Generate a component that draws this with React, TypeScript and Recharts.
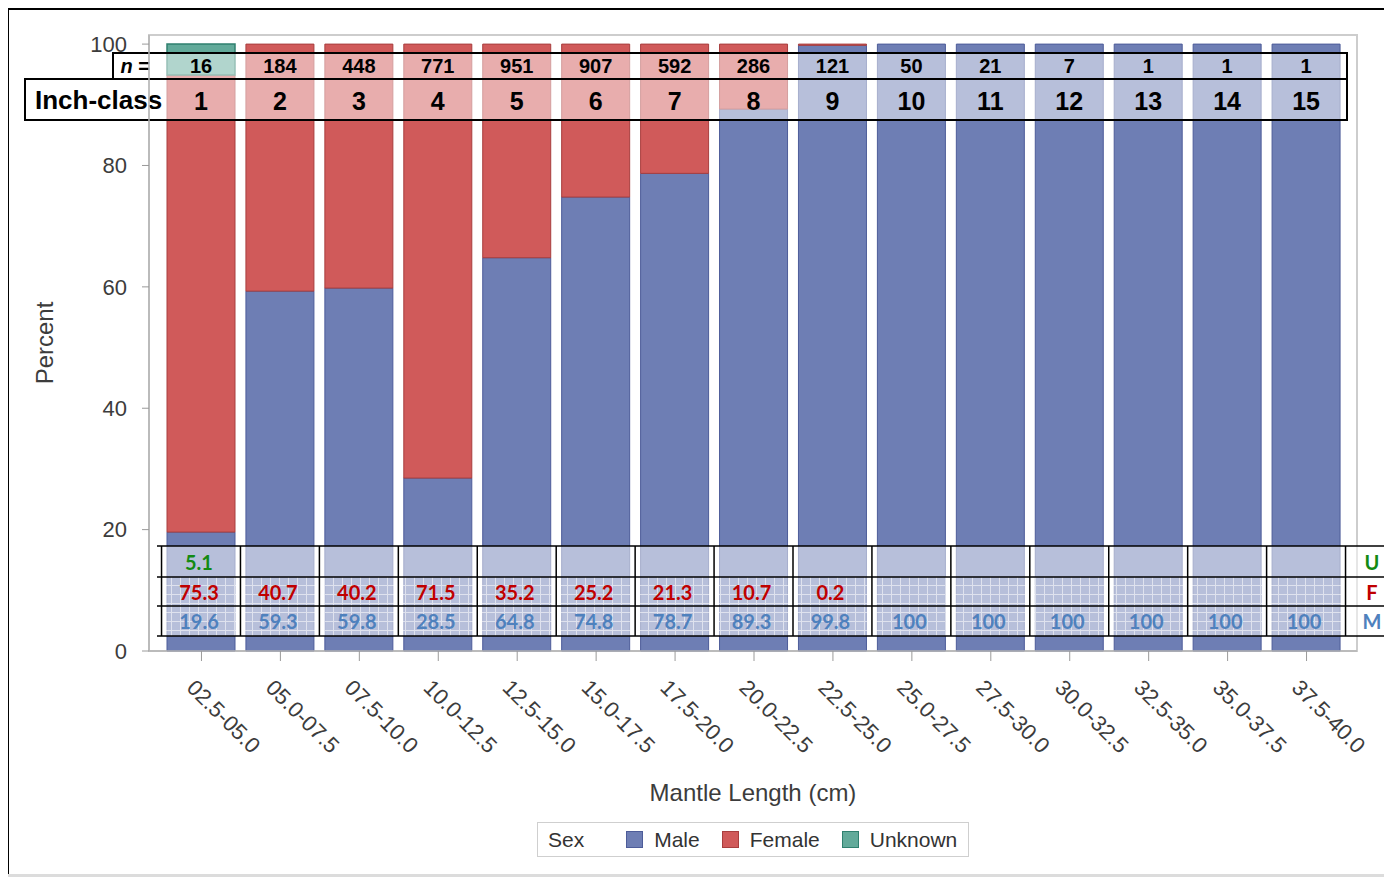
import React from "react"
import { BarChart, Bar, XAxis, YAxis, Legend } from "recharts"

// size classes (mantle length, cm) and the table rows shown over the bars
const sizeClasses = [
  "02.5-05.0", "05.0-07.5", "07.5-10.0", "10.0-12.5", "12.5-15.0",
  "15.0-17.5", "17.5-20.0", "20.0-22.5", "22.5-25.0", "25.0-27.5",
  "27.5-30.0", "30.0-32.5", "32.5-35.0", "35.0-37.5", "37.5-40.0",
]
const inchClass = [1, 2, 3, 4, 5, 6, 7, 8, 9, 10, 11, 12, 13, 14, 15]
const nFish = [16, 184, 448, 771, 951, 907, 592, 286, 121, 50, 21, 7, 1, 1, 1]
const malePct = [19.6, 59.3, 59.8, 28.5, 64.8, 74.8, 78.7, 89.3, 99.8, 100, 100, 100, 100, 100, 100]
const femalePct = [75.3, 40.7, 40.2, 71.5, 35.2, 25.2, 21.3, 10.7, 0.2, 0, 0, 0, 0, 0, 0]
const unknownPct = [5.1, 0, 0, 0, 0, 0, 0, 0, 0, 0, 0, 0, 0, 0, 0]
const yTicks = [0, 20, 40, 60, 80, 100]
const legendOrder = ["Male", "Female", "Unknown"]

const data = sizeClasses.map((range, i) => ({
  range,
  inch: inchClass[i],
  n: nFish[i],
  male: malePct[i],
  female: femalePct[i],
  unknown: unknownPct[i],
  table: 0,
}))

const COLORS = {
  male: { fill: "#6e7eb4", stroke: "#4d5c99" },
  female: { fill: "#d05a5a", stroke: "#a83e3e" },
  unknown: { fill: "#62aa9a", stroke: "#2f806f" },
}

const SANS = "'Liberation Sans', Arial, sans-serif"
const CAL = "Lato, 'Open Sans', sans-serif"
const AXIS_TEXT = "#3c3c3c"

// plot area in page pixels (chart is placed at page origin)
const PLOT = { left: 149, right: 1357, top: 35, bottom: 651 }
const X_PAD = 12
const BAND = (PLOT.right - PLOT.left - 2 * X_PAD) / sizeClasses.length

// rows of the overlaid tables
const ROW_N = { top: 53, bottom: 79 }
const ROW_INCH = { top: 79, bottom: 120 }
const ROW_U = { top: 546, bottom: 577 }
const ROW_F = { top: 577, bottom: 606 }
const ROW_M = { top: 606, bottom: 636 }

function XTick({ x, y, payload }: any) {
  const px = x - 16
  const py = y + 26
  return (
    <text x={px} y={py} transform={`rotate(45 ${px} ${py})`} fill={AXIS_TEXT} fontSize={22} fontFamily={SANS}>
      {payload.value}
    </text>
  )
}

function TableFrames() {
  const mid = (r: { top: number; bottom: number }) => (r.top + r.bottom) / 2
  return (
    <g>
      <defs>
        <pattern id="cellGrid" width="9" height="9" patternUnits="userSpaceOnUse">
          <path d="M0 0.5H9M0.5 0V9" stroke="#fff" strokeWidth="1" />
        </pattern>
      </defs>
      {/* n = row */}
      <rect x={113} y={ROW_N.top} width={1347 - 113} height={ROW_N.bottom - ROW_N.top}
        fill="#fff" fillOpacity={0.5} stroke="#000" strokeWidth={2} />
      {/* Inch-class row */}
      <rect x={25} y={ROW_INCH.top} width={1347 - 25} height={ROW_INCH.bottom - ROW_INCH.top}
        fill="#fff" fillOpacity={0.5} stroke="#000" strokeWidth={2} />
      <text x={150} y={mid(ROW_N)} textAnchor="end" dominantBaseline="central" fontFamily={SANS} fontWeight="bold" fontSize={20}>
        <tspan fontStyle="italic">n</tspan> =
      </text>
      <text x={35} y={mid(ROW_INCH)} dominantBaseline="central" fontFamily={SANS} fontWeight="bold" fontSize={26}>
        Inch-class
      </text>

      {/* bottom U / F / M table */}
      <rect x={157} y={ROW_U.top} width={1240} height={ROW_M.bottom - ROW_U.top} fill="#fff" fillOpacity={0.5} />
      <rect x={157} y={ROW_F.top} width={1190} height={ROW_M.bottom - ROW_F.top} fill="url(#cellGrid)" opacity={0.55} />
      {[ROW_U.top, ROW_F.top, ROW_M.top, ROW_M.bottom].map((yy) => (
        <line key={yy} x1={157} x2={1400} y1={yy} y2={yy} stroke="#000" strokeWidth={1.5} />
      ))}
      <text x={1372} y={mid(ROW_U)} textAnchor="middle" dominantBaseline="central" fontFamily={CAL} fontWeight="bold" fontSize={20} fill="#138a13">U</text>
      <text x={1372} y={mid(ROW_F)} textAnchor="middle" dominantBaseline="central" fontFamily={CAL} fontWeight="bold" fontSize={20} fill="#c00000">F</text>
      <text x={1372} y={mid(ROW_M)} textAnchor="middle" dominantBaseline="central" fontFamily={CAL} fontWeight="bold" fontSize={20} fill="#4f81bd">M</text>
    </g>
  )
}

// drawn by the last (zero-height) series so it sits on top of every bar
function TableCells(props: any) {
  const { x, width, index, payload } = props
  const cx = x + width / 2
  const left = cx - BAND / 2
  const right = cx + BAND / 2
  const isLast = index === sizeClasses.length - 1
  const cell = (val: number, row: { top: number; bottom: number }, color: string) =>
    val > 0 ? (
      <text x={cx - 2} y={(row.top + row.bottom) / 2} textAnchor="middle" dominantBaseline="central"
        fontFamily={CAL} fontWeight="bold" fontSize={20} fill={color}>
        {val}
      </text>
    ) : null

  return (
    <g>
      {index === 0 && <TableFrames />}
      <text x={cx} y={(ROW_N.top + ROW_N.bottom) / 2} textAnchor="middle" dominantBaseline="central"
        fontFamily={SANS} fontWeight="bold" fontSize={20} fill="#000">
        {payload.n}
      </text>
      <text x={cx} y={(ROW_INCH.top + ROW_INCH.bottom) / 2 + 1} textAnchor="middle" dominantBaseline="central"
        fontFamily={SANS} fontWeight="bold" fontSize={25} fill="#000">
        {payload.inch}
      </text>
      <line x1={left} x2={left} y1={ROW_U.top} y2={ROW_M.bottom} stroke="#000" strokeWidth={1.5} />
      {isLast && <line x1={right} x2={right} y1={ROW_U.top} y2={ROW_M.bottom} stroke="#000" strokeWidth={1.5} />}
      {cell(payload.unknown, ROW_U, "#138a13")}
      {cell(payload.female, ROW_F, "#c00000")}
      {cell(payload.male, ROW_M, "#4f81bd")}
    </g>
  )
}

function SexLegend({ payload }: any) {
  const items = (payload || [])
    .filter((p: any) => p.type !== "none" && legendOrder.includes(p.value))
    .sort((a: any, b: any) => legendOrder.indexOf(a.value) - legendOrder.indexOf(b.value))
  return (
    <div
      style={{
        boxSizing: "border-box",
        width: 432,
        height: 35,
        border: "1px solid #cfcfcf",
        display: "flex",
        alignItems: "center",
        paddingLeft: 10,
        fontFamily: SANS,
        fontSize: 21,
        color: "#333",
      }}
    >
      <span style={{ marginRight: 42 }}>Sex</span>
      {items.map((it: any) => (
        <span key={it.value} style={{ display: "flex", alignItems: "center", marginRight: 22 }}>
          <span
            style={{
              boxSizing: "border-box",
              width: 17,
              height: 17,
              background: it.color,
              border: `1px solid ${COLORS[it.dataKey as keyof typeof COLORS]?.stroke || "#333"}`,
              marginRight: 11,
            }}
          />
          {it.value}
        </span>
      ))}
    </div>
  )
}

export default function App() {
  return (
    <div style={{ position: "relative", width: 1384, height: 869 }}>
      {/* page frame lines */}
      <div style={{ position: "absolute", left: -1, top: 0, width: 2, height: 869, background: "#000" }} />
      <div style={{ position: "absolute", left: -1, top: 0, width: 1400, height: 2, background: "#000" }} />
      <div style={{ position: "absolute", left: -1, top: 866, width: 1400, height: 3, background: "#dcdcdc" }} />
      {/* plot frame */}
      <div
        style={{
          position: "absolute",
          left: PLOT.left - 8 - 1,
          top: PLOT.top - 8 - 1,
          width: PLOT.right - PLOT.left + 2,
          height: PLOT.bottom - PLOT.top + 2,
          border: "2px solid #cdcdcd",
          boxSizing: "border-box",
        }}
      />
      <div style={{ position: "absolute", left: -8, top: -8 }}>
        <BarChart
          width={1392}
          height={877}
          data={data}
          barSize={68}
          margin={{ top: 35, right: 35, left: 39, bottom: 66 }}
          style={{ overflow: "visible" }}
        >
          <XAxis
            dataKey="range"
            interval={0}
            height={160}
            padding={{ left: X_PAD + 1, right: X_PAD - 1 }}
            tickSize={10}
            tick={<XTick />}
            axisLine={{ stroke: "#b4b4b4", strokeWidth: 1.5 }}
            tickLine={{ stroke: "#9a9a9a" }}
            label={{ value: "Mantle Length (cm)", position: "insideBottom", offset: 10, fill: AXIS_TEXT, fontSize: 24, fontFamily: SANS }}
          />
          <YAxis
            type="number"
            domain={[0, 101.5]}
            ticks={yTicks}
            width={110}
            tickSize={7}
            tickMargin={15}
            tick={{ fill: AXIS_TEXT, fontSize: 22, fontFamily: SANS }}
            axisLine={{ stroke: "#b4b4b4", strokeWidth: 1.5 }}
            tickLine={{ stroke: "#9a9a9a" }}
            label={() => (
              <text x={53} y={(PLOT.top + PLOT.bottom) / 2} transform={`rotate(-90 53 ${(PLOT.top + PLOT.bottom) / 2})`}
                textAnchor="middle" fill={AXIS_TEXT} fontSize={24} fontFamily={SANS}>
                Percent
              </text>
            )}
          />
          <Legend
            verticalAlign="middle"
            layout="horizontal"
            wrapperStyle={{ left: 537, top: 822, width: 432, height: 35 }}
            content={<SexLegend />}
          />
          <Bar dataKey="male" name="Male" stackId="s" fill={COLORS.male.fill} stroke={COLORS.male.stroke} strokeWidth={1} isAnimationActive={false} />
          <Bar dataKey="female" name="Female" stackId="s" fill={COLORS.female.fill} stroke={COLORS.female.stroke} strokeWidth={1} isAnimationActive={false} />
          <Bar dataKey="unknown" name="Unknown" stackId="s" fill={COLORS.unknown.fill} stroke={COLORS.unknown.stroke} strokeWidth={1.5} isAnimationActive={false} />
          <Bar dataKey="table" stackId="s" legendType="none" shape={<TableCells />} isAnimationActive={false} />
        </BarChart>
      </div>
    </div>
  )
}
